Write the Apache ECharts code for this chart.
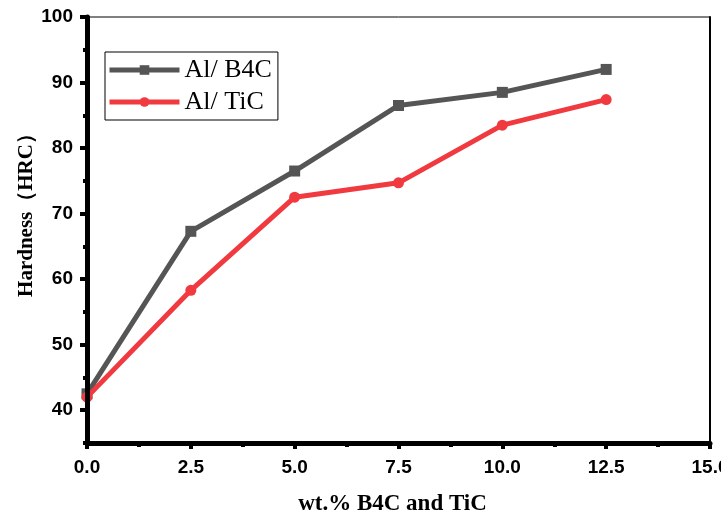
<!DOCTYPE html>
<html><head><meta charset="utf-8">
<script src="https://cdn.jsdelivr.net/npm/echarts@6/dist/echarts.min.js"></script>
<style>html,body{margin:0;padding:0;background:#fff;overflow:hidden}#c{width:721px;height:513px}</style>
</head><body><div id="c"></div>
<script>
const xValues = [0, 2.5, 5, 7.5, 10, 12.5];
const b4c = [42.5, 67.3, 76.5, 86.5, 88.5, 92];
const tic = [42, 58.3, 72.5, 74.7, 83.5, 87.4];
const seriesNames = ['Al/ B4C', 'Al/ TiC'];
const yTicks = [40, 50, 60, 70, 80, 90, 100];

const chart = echarts.init(document.getElementById('c'));
const labelFont = {fontFamily: 'Liberation Sans, Arial', fontWeight: 'bold', fontSize: 19, color: '#000'};
const hiddenParts = {axisLabel: {show: false}, splitLine: {show: false}};
chart.setOption({
  animation: false,
  backgroundColor: '#fff',
  grid: {left: 87, right: 11, top: 17, bottom: 70, show: true, borderColor: '#000', borderWidth: 1, containLabel: false, outerBoundsMode: 'none'},
  legend: {
    left: 105, top: 52, orient: 'vertical', itemWidth: 70, itemHeight: 12, itemGap: 6,
    borderColor: '#000', borderWidth: 1, padding: [5, 6, 5, 2],
    lineStyle: {width: 5},
    textStyle: {fontFamily: 'Liberation Serif, Times New Roman', fontSize: 26, color: '#000'},
    data: seriesNames
  },
  xAxis: [{
    type: 'value', min: 0, max: 15, interval: 2.5, position: 'bottom', z: 5,
    axisLine: {show: true, lineStyle: {color: '#000', width: 5}},
    axisTick: {show: true, length: 6, lineStyle: {width: 4, color: '#000'}},
    axisLabel: Object.assign({margin: 15, formatter: v => v.toFixed(1)}, labelFont),
    splitLine: {show: false},
    name: 'wt.% B4C and TiC', nameLocation: 'middle', nameGap: 50, nameMoveOverlap: false,
    nameTextStyle: {fontFamily: 'Liberation Serif, Times New Roman', fontWeight: 'bold', fontSize: 23, color: '#000', padding: [0, 12, 0, 0]}
  }, Object.assign({
    type: 'value', min: 0, max: 15, interval: 1.25, position: 'bottom',
    axisLine: {show: false},
    axisTick: {show: true, length: 4, lineStyle: {width: 4, color: '#000'}}
  }, hiddenParts)],
  yAxis: [{
    type: 'value', min: 35, max: 100, position: 'left', z: 5,
    axisLine: {show: true, lineStyle: {color: '#000', width: 5}},
    axisTick: {show: true, length: 7, customValues: yTicks, lineStyle: {width: 4, color: '#000'}},
    axisLabel: Object.assign({margin: 14, customValues: yTicks}, labelFont),
    splitLine: {show: false},
    name: 'Hardness（HRC）', nameLocation: 'middle', nameGap: 50, nameRotate: 90, nameMoveOverlap: false,
    nameTextStyle: {fontFamily: 'Liberation Serif, Times New Roman', fontWeight: 'bold', fontSize: 21, color: '#000', padding: [0, 0, 0, 40]}
  }, Object.assign({
    type: 'value', min: 35, max: 100, interval: 5, position: 'left',
    axisLine: {show: false},
    axisTick: {show: true, length: 4, lineStyle: {width: 4, color: '#000'}}
  }, hiddenParts), Object.assign({
    type: 'value', min: 35, max: 100, position: 'right', z: 10,
    axisLine: {show: true, onZero: false, lineStyle: {color: '#000', width: 2}}, axisTick: {show: false}
  }, hiddenParts)],
  series: [{
    name: seriesNames[0], type: 'line', data: xValues.map((x, i) => [x, b4c[i]]),
    color: '#555555', lineStyle: {width: 5}, symbol: 'rect', symbolSize: 11, showAllSymbol: true, z: 3
  }, {
    name: seriesNames[1], type: 'line', data: xValues.map((x, i) => [x, tic[i]]),
    color: '#f03a40', lineStyle: {width: 5}, symbol: 'circle', symbolSize: 11, showAllSymbol: true, z: 4
  }]
});
</script></body></html>
